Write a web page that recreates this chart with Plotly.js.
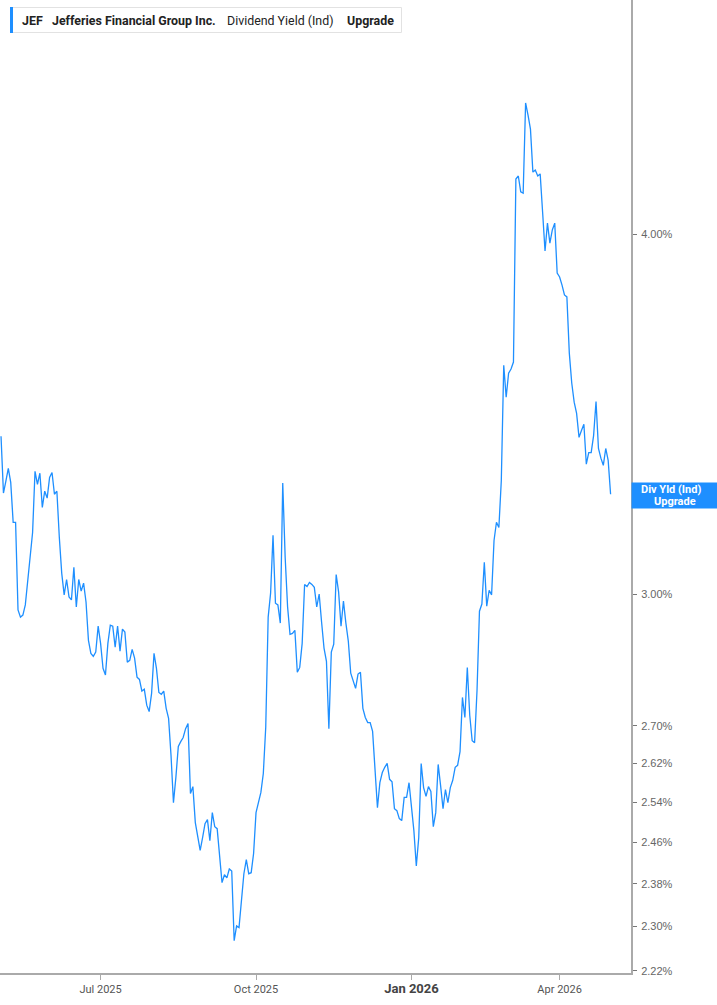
<!DOCTYPE html>
<html>
<head>
<meta charset="utf-8">
<script src="https://cdn.plot.ly/plotly-3.0.1.min.js"></script>
<style>html,body{margin:0;padding:0;background:#fff;}#chart{width:717px;height:1005px;}</style>
</head>
<body>
<div id="chart"></div>
<script>
// Trading days, May 1 2025 - May 1 2026
const dates = [
'2025-05-01','2025-05-02','2025-05-05','2025-05-06','2025-05-07','2025-05-08','2025-05-09','2025-05-12','2025-05-13','2025-05-14','2025-05-15','2025-05-16','2025-05-19','2025-05-20','2025-05-21','2025-05-22','2025-05-23','2025-05-27','2025-05-28','2025-05-29','2025-05-30',
'2025-06-02','2025-06-03','2025-06-04','2025-06-05','2025-06-06','2025-06-09','2025-06-10','2025-06-11','2025-06-12','2025-06-13','2025-06-16','2025-06-17','2025-06-18','2025-06-20','2025-06-23','2025-06-24','2025-06-25','2025-06-26','2025-06-27','2025-06-30',
'2025-07-01','2025-07-02','2025-07-03','2025-07-07','2025-07-08','2025-07-09','2025-07-10','2025-07-11','2025-07-14','2025-07-15','2025-07-16','2025-07-17','2025-07-18','2025-07-21','2025-07-22','2025-07-23','2025-07-24','2025-07-25','2025-07-28','2025-07-29','2025-07-30','2025-07-31',
'2025-08-01','2025-08-04','2025-08-05','2025-08-06','2025-08-07','2025-08-08','2025-08-11','2025-08-12','2025-08-13','2025-08-14','2025-08-15','2025-08-18','2025-08-19','2025-08-20','2025-08-21','2025-08-22','2025-08-25','2025-08-26','2025-08-27','2025-08-28','2025-08-29',
'2025-09-02','2025-09-03','2025-09-04','2025-09-05','2025-09-08','2025-09-09','2025-09-10','2025-09-11','2025-09-12','2025-09-15','2025-09-16','2025-09-17','2025-09-18','2025-09-19','2025-09-22','2025-09-23','2025-09-24','2025-09-25','2025-09-26','2025-09-29','2025-09-30',
'2025-10-01','2025-10-02','2025-10-03','2025-10-06','2025-10-07','2025-10-08','2025-10-09','2025-10-10','2025-10-13','2025-10-14','2025-10-15','2025-10-16','2025-10-17','2025-10-20','2025-10-21','2025-10-22','2025-10-23','2025-10-24','2025-10-27','2025-10-28','2025-10-29','2025-10-30','2025-10-31',
'2025-11-03','2025-11-04','2025-11-05','2025-11-06','2025-11-07','2025-11-10','2025-11-11','2025-11-12','2025-11-13','2025-11-14','2025-11-17','2025-11-18','2025-11-19','2025-11-20','2025-11-21','2025-11-24','2025-11-25','2025-11-26','2025-11-28',
'2025-12-01','2025-12-02','2025-12-03','2025-12-04','2025-12-05','2025-12-08','2025-12-09','2025-12-10','2025-12-11','2025-12-12','2025-12-15','2025-12-16','2025-12-17','2025-12-18','2025-12-19','2025-12-22','2025-12-23','2025-12-24','2025-12-26','2025-12-29','2025-12-30','2025-12-31',
'2026-01-02','2026-01-05','2026-01-06','2026-01-07','2026-01-08','2026-01-09','2026-01-12','2026-01-13','2026-01-14','2026-01-15','2026-01-16','2026-01-20','2026-01-21','2026-01-22','2026-01-23','2026-01-26','2026-01-27','2026-01-28','2026-01-29','2026-01-30',
'2026-02-02','2026-02-03','2026-02-04','2026-02-05','2026-02-06','2026-02-09','2026-02-10','2026-02-11','2026-02-12','2026-02-13','2026-02-17','2026-02-18','2026-02-19','2026-02-20','2026-02-23','2026-02-24','2026-02-25','2026-02-26','2026-02-27',
'2026-03-02','2026-03-03','2026-03-04','2026-03-05','2026-03-06','2026-03-09','2026-03-10','2026-03-11','2026-03-12','2026-03-13','2026-03-16','2026-03-17','2026-03-18','2026-03-19','2026-03-20','2026-03-23','2026-03-24','2026-03-25','2026-03-26','2026-03-27','2026-03-30','2026-03-31',
'2026-04-01','2026-04-02','2026-04-06','2026-04-07','2026-04-08','2026-04-09','2026-04-10','2026-04-13','2026-04-14','2026-04-15','2026-04-16','2026-04-17','2026-04-20','2026-04-21','2026-04-22','2026-04-23','2026-04-24','2026-04-27','2026-04-28','2026-04-29','2026-04-30',
'2026-05-01'
];

// Dividend yield (Ind), percent
const divYield = [
3.403,3.252,3.283,3.317,3.280,3.177,3.177,2.962,2.945,2.950,2.974,3.033,3.106,3.151,3.309,3.275,3.304,3.215,3.257,3.239,3.293,
3.306,3.249,3.257,3.139,3.050,2.998,3.035,2.993,2.986,3.065,2.969,3.035,3.007,3.026,2.981,2.891,2.861,2.854,2.864,2.924,
2.884,2.827,2.812,2.884,2.926,2.924,2.875,2.924,2.866,2.917,2.910,2.841,2.845,2.870,2.850,2.807,2.802,2.776,2.780,2.745,2.731,2.771,
2.861,2.827,2.773,2.769,2.776,2.738,2.716,2.637,2.539,2.591,2.656,2.666,2.675,2.694,2.705,2.558,2.572,2.499,2.469,2.444,2.469,
2.497,2.505,2.463,2.519,2.491,2.487,2.438,2.382,2.397,2.391,2.408,2.404,2.274,2.301,2.298,2.342,2.399,2.426,2.399,2.401,2.438,
2.519,2.537,2.560,2.599,2.697,2.945,3.002,3.144,2.978,2.974,2.931,3.278,3.089,2.969,2.905,2.907,2.914,2.818,2.829,2.884,3.023,3.018,3.028,
3.023,3.016,2.969,3.000,2.933,2.873,2.843,2.694,2.864,2.882,3.047,3.005,2.924,2.983,2.931,2.889,2.816,2.798,2.782,
2.814,2.818,2.738,2.718,2.707,2.707,2.688,2.605,2.529,2.580,2.601,2.612,2.620,2.587,2.582,2.527,2.523,2.507,2.503,2.550,2.550,2.580,
2.529,2.483,2.414,2.469,2.620,2.570,2.552,2.572,2.562,2.491,2.519,2.618,2.574,2.527,2.566,2.539,2.570,2.585,2.612,2.616,
2.645,2.762,2.718,2.829,2.723,2.668,2.664,2.778,2.959,2.976,3.077,2.971,3.009,2.998,3.131,3.177,3.164,3.285,3.602,
3.511,3.579,3.591,3.611,4.180,4.190,4.137,4.133,4.442,4.399,4.350,4.203,4.210,4.190,4.197,4.071,3.946,4.035,3.971,4.013,4.035,3.877,
3.865,3.840,3.810,3.804,3.637,3.551,3.497,3.466,3.400,3.419,3.436,3.328,3.359,3.359,3.405,3.499,3.370,3.344,3.325,3.370,3.338,
3.249
];

const xTickVals = ['2025-07-01','2025-10-01','2026-01-02','2026-04-01'];
const xTickText = ['Jul 2025','Oct 2025','<span style="font-size:13px;font-weight:bold;fill:#444">Jan 2026</span>','Apr 2026'];
const yTickVals = [2.22,2.30,2.38,2.46,2.54,2.62,2.70,3.00,4.00];
const yTickText = ['2.22%','2.30%','2.38%','2.46%','2.54%','2.62%','2.70%','3.00%','4.00%'];

const BLUE = '#1e8fff';
const PW = 631, PH = 973;
const px = v => v / PW;
const py = v => 1 - v / PH;
const lastLog = Math.log10(divYield[divYield.length - 1]);

const trace = {
  x: dates, y: divYield, type: 'scatter', mode: 'lines',
  line: {color: BLUE, width: 1.3}, hoverinfo: 'skip', showlegend: false
};

const legendFont = {family: 'Roboto, Inter, sans-serif', size: 12.4, color: '#222'};
const tagFont = {family: 'Roboto, sans-serif', size: 11, color: '#fff'};
const layout = {
  width: 717, height: 1005,
  margin: {l: 0, r: 86, t: 0, b: 32},
  paper_bgcolor: '#fff', plot_bgcolor: '#fff',
  showlegend: false,
  xaxis: {
    type: 'category', range: [-0.42, 259.4],
    tickmode: 'array', tickvals: xTickVals, ticktext: xTickText,
    showgrid: false, zeroline: false,
    showline: true, linecolor: '#aaa', linewidth: 2,
    ticks: 'outside', ticklen: 5, tickcolor: '#aaa', tickwidth: 1,
    tickfont: {family: 'Roboto, sans-serif', size: 11, color: '#555'},
    fixedrange: true
  },
  yaxis: {
    type: 'log', side: 'right',
    range: [0.34557, 0.68330],
    tickmode: 'array', tickvals: yTickVals, ticktext: yTickText,
    showgrid: false, zeroline: false,
    showline: true, linecolor: '#aaa', linewidth: 2,
    ticks: 'outside', ticklen: 4, tickcolor: '#777', tickwidth: 1,
    tickfont: {family: 'Liberation Sans, Arial, sans-serif', size: 11, color: '#666'},
    ticklabelstandoff: 2,
    fixedrange: true
  },
  shapes: [
    {type: 'rect', xref: 'paper', yref: 'paper', x0: px(10.5), x1: px(401.5), y0: py(32.5), y1: py(7.5),
     line: {color: '#e2e2e2', width: 1}, fillcolor: '#fff', layer: 'above'},
    {type: 'rect', xref: 'paper', yref: 'paper', x0: px(10), x1: px(13), y0: py(33), y1: py(7),
     line: {width: 0}, fillcolor: BLUE, layer: 'above'}
  ],
  annotations: [
    {xref: 'paper', yref: 'paper', x: px(20), y: py(20.5), xanchor: 'left', yanchor: 'middle', showarrow: false,
     text: '<b>JEF</b>', font: legendFont},
    {xref: 'paper', yref: 'paper', x: px(50), y: py(20.5), xanchor: 'left', yanchor: 'middle', showarrow: false,
     text: '<b>Jefferies Financial Group Inc.</b>', font: legendFont},
    {xref: 'paper', yref: 'paper', x: px(225), y: py(20.5), xanchor: 'left', yanchor: 'middle', showarrow: false,
     text: 'Dividend Yield (Ind)', font: legendFont},
    {xref: 'paper', yref: 'paper', x: px(345), y: py(20.5), xanchor: 'left', yanchor: 'middle', showarrow: false,
     text: '<b>Upgrade</b>', font: legendFont},
    // last-value tag box
    {xref: 'paper', yref: 'y', x: 1, y: lastLog, xanchor: 'left', yanchor: 'middle', showarrow: false,
     text: ' ', bgcolor: BLUE, width: 85, height: 25, borderpad: 0, yshift: -1,
     font: {size: 2, color: BLUE}},
    {xref: 'paper', yref: 'y', x: 1, y: lastLog, xanchor: 'left', yanchor: 'middle', showarrow: false,
     text: '<b>Div Yld (Ind)</b>', xshift: 8, yshift: 5, font: tagFont},
    {xref: 'paper', yref: 'y', x: 1, y: lastLog, xanchor: 'left', yanchor: 'middle', showarrow: false,
     text: '<b>Upgrade</b>', xshift: 21, yshift: -7, font: tagFont}
  ]
};

Plotly.newPlot('chart', [trace], layout, {displayModeBar: false, staticPlot: true});
</script>
</body>
</html>
